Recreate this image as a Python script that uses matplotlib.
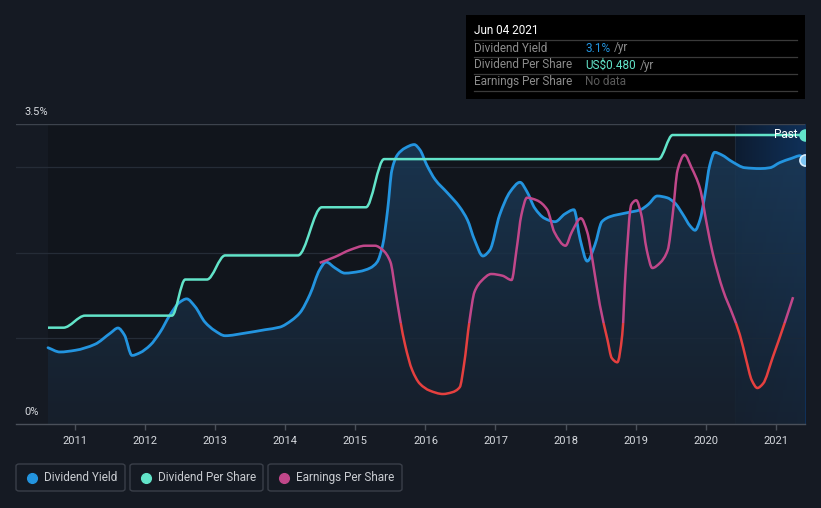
import numpy as np
import matplotlib
matplotlib.use("Agg")
import matplotlib.pyplot as plt
from matplotlib.patches import Rectangle, FancyBboxPatch, PathPatch
from matplotlib.path import Path
from matplotlib.colors import LinearSegmentedColormap

plt.rcParams['font.family'] = ['Roboto', 'DejaVu Sans']

# ---------------- data (decimal years) ----------------
yield_years = [2010.61, 2010.78, 2011.00, 2011.28, 2011.50, 2011.61, 2011.70, 2011.81, 2011.92,
               2012.07, 2012.21, 2012.35, 2012.49, 2012.59, 2012.71, 2012.85, 2012.99, 2013.14,
               2013.42, 2013.71, 2013.92, 2014.09, 2014.21, 2014.35, 2014.49, 2014.58, 2014.71,
               2014.85, 2015.06, 2015.21, 2015.31, 2015.39, 2015.46, 2015.52, 2015.60, 2015.71,
               2015.84, 2015.92, 2016.02, 2016.14, 2016.31, 2016.49, 2016.60, 2016.70, 2016.82,
               2016.92, 2017.06, 2017.21, 2017.35, 2017.45, 2017.56, 2017.70, 2017.85, 2017.99,
               2018.12, 2018.21, 2018.31, 2018.42, 2018.52, 2018.64, 2018.85, 2019.07, 2019.18,
               2019.31, 2019.45, 2019.56, 2019.68, 2019.78, 2019.85, 2019.92, 2019.99, 2020.06,
               2020.13, 2020.23, 2020.38, 2020.56, 2020.78, 2020.92, 2021.06, 2021.23, 2021.35,
               2021.42]
yield_pct = [0.89, 0.84, 0.86, 0.93, 1.06, 1.12, 1.04, 0.80, 0.83,
             0.92, 1.07, 1.27, 1.42, 1.46, 1.37, 1.19, 1.09, 1.03,
             1.06, 1.10, 1.13, 1.21, 1.30, 1.51, 1.80, 1.89, 1.82,
             1.76, 1.78, 1.82, 1.89, 2.09, 2.50, 2.96, 3.14, 3.22,
             3.26, 3.20, 3.02, 2.85, 2.70, 2.53, 2.38, 2.15, 1.96,
             2.03, 2.44, 2.71, 2.82, 2.71, 2.52, 2.40, 2.36, 2.45,
             2.50, 2.15, 1.90, 2.09, 2.36, 2.42, 2.46, 2.50, 2.56,
             2.66, 2.64, 2.58, 2.44, 2.31, 2.26, 2.38, 2.67, 3.02,
             3.17, 3.14, 3.06, 2.99, 2.98, 2.99, 3.05, 3.10, 3.13,
             3.08]

dps_years = [2010.61, 2010.83, 2011.14, 2012.38, 2012.57, 2012.88, 2013.14, 2014.18,
             2014.52, 2015.15, 2015.41, 2019.33, 2019.53, 2021.42]
dps_usd = [0.16, 0.16, 0.18, 0.18, 0.24, 0.24, 0.28, 0.28,
           0.36, 0.36, 0.44, 0.44, 0.48, 0.48]

eps_years = [2014.49, 2014.71, 2014.92, 2015.14, 2015.28, 2015.39, 2015.50, 2015.57, 2015.64,
             2015.71, 2015.81, 2015.92, 2016.06, 2016.25, 2016.38, 2016.49, 2016.55, 2016.63,
             2016.70, 2016.80, 2016.94, 2017.10, 2017.23, 2017.30, 2017.37, 2017.45, 2017.59,
             2017.74, 2017.84, 2018.00, 2018.09, 2018.22, 2018.31, 2018.39, 2018.49, 2018.60,
             2018.66, 2018.74, 2018.81, 2018.86, 2018.94, 2019.01, 2019.08, 2019.16, 2019.24,
             2019.35, 2019.46, 2019.53, 2019.60, 2019.70, 2019.80, 2019.92, 2020.02, 2020.10,
             2020.25, 2020.39, 2020.49, 2020.58, 2020.66, 2020.74, 2020.82, 2020.96, 2021.13,
             2021.25]
eps_val = [1.88, 1.95, 2.03, 2.08, 2.08, 2.03, 1.89, 1.56, 1.21,
           0.92, 0.63, 0.47, 0.39, 0.35, 0.37, 0.43, 0.69, 1.21,
           1.54, 1.67, 1.75, 1.73, 1.68, 2.03, 2.44, 2.64, 2.61,
           2.50, 2.24, 2.08, 2.24, 2.40, 2.24, 1.89, 1.39, 0.98,
           0.77, 0.72, 1.04, 1.80, 2.56, 2.61, 2.45, 2.03, 1.82,
           1.88, 2.03, 2.44, 2.96, 3.14, 2.99, 2.75, 2.32, 2.00,
           1.56, 1.27, 1.04, 0.75, 0.51, 0.42, 0.47, 0.78, 1.18,
           1.48]

year_ticks = list(range(2011, 2022))
y_labels = ["0%", "3.5%"]
legend_labels = ["Dividend Yield", "Dividend Per Share", "Earnings Per Share"]
tooltip_date = "Jun 04 2021"
tooltip_rows = [("Dividend Yield", "3.1%", "/yr"),
                ("Dividend Per Share", "US$0.480", "/yr"),
                ("Earnings Per Share", "No data", "")]

# ---------------- style ----------------
W, H = 821, 508
BG = '#151a23'
BLUE = '#2394df'
TEAL = '#62e4c9'
PINK = '#c1478a'
RED = '#e5403f'
TXT = '#d6d9de'


def smooth_path(xs, ys, close_to=None):
    """Monotone cubic Bezier path through the given points (drawing only)."""
    x = np.asarray(xs, float)
    y = np.asarray(ys, float)
    n = len(x)
    h = np.diff(x)
    d = np.diff(y) / h
    m = np.zeros(n)
    m[0], m[-1] = d[0], d[-1]
    for k in range(1, n - 1):
        if d[k - 1] * d[k] <= 0:
            m[k] = 0.0
        else:
            w1 = 2 * h[k] + h[k - 1]
            w2 = h[k] + 2 * h[k - 1]
            m[k] = (w1 + w2) / (w1 / d[k - 1] + w2 / d[k])
    verts = [(x[0], y[0])]
    codes = [Path.MOVETO]
    for i in range(n - 1):
        verts += [(x[i] + h[i] / 3, y[i] + m[i] * h[i] / 3),
                  (x[i + 1] - h[i] / 3, y[i + 1] - m[i + 1] * h[i] / 3),
                  (x[i + 1], y[i + 1])]
        codes += [Path.CURVE4] * 3
    if close_to is not None:
        verts += [(x[-1], close_to), (x[0], close_to), (x[0], y[0])]
        codes += [Path.LINETO, Path.LINETO, Path.CLOSEPOLY]
    return Path(verts, codes)


fig = plt.figure(figsize=(W / 100, H / 100), dpi=100, facecolor=BG)


def fx(x):
    return x / W


def fy(y):
    return 1 - y / H


x_left, x_right = 2010.153, 2021.42
ax = fig.add_axes([fx(16), fy(424), fx(805) - fx(16), fy(124) - fy(424)])
ax.set_facecolor(BG)
ax.set_xlim(x_left, x_right)
ax.set_ylim(0, 3.5)

# darker data area
ax.axvspan(yield_years[0], x_right, color='#11151c', zorder=0, lw=0)

# highlight span with horizontal gradient
fc_start = 2020.42
grad = np.linspace(0, 1, 256).reshape(1, -1)
cmap_fc = LinearSegmentedColormap.from_list('fc', [(0.05, 0.11, 0.19, 1), (0.06, 0.19, 0.35, 1)])
ax.imshow(grad, extent=[fc_start, x_right, 0, 3.5], aspect='auto', cmap=cmap_fc,
          zorder=0.5, origin='lower')
ax.axvline(fc_start, color='#1d2a3a', lw=0.8, zorder=0.6)

# gridlines
for g in [1, 2, 3]:
    ax.axhline(g, color='#252c37', lw=0.9, zorder=1)
ax.axhline(3.5, color='#3d434d', lw=1.0, zorder=1)

# blue area with vertical gradient
fill_path = smooth_path(yield_years, yield_pct, close_to=0)
cmap_fill = LinearSegmentedColormap.from_list('fill', ['#17212e', '#1b3a58'])
vgrad = np.linspace(0, 1, 256).reshape(-1, 1)
im = ax.imshow(vgrad, extent=[yield_years[0], yield_years[-1], 0, 3.3], aspect='auto',
               cmap=cmap_fill, origin='lower', zorder=1.5, alpha=0.85)
im.set_clip_path(fill_path, transform=ax.transData)

ax.add_patch(PathPatch(smooth_path(yield_years, yield_pct), fill=False, edgecolor=BLUE,
                       lw=2.0, zorder=4, joinstyle='round', capstyle='round'))

# DPS on its own hidden axis
ax2 = ax.twinx()
ax2.set_ylim(0, 0.4983)
ax2.set_xlim(x_left, x_right)
ax2.axis('off')
ax2.add_patch(PathPatch(smooth_path(dps_years, dps_usd), fill=False, edgecolor=TEAL,
                        lw=1.8, zorder=3, joinstyle='round'))
ax2.plot([dps_years[-1]], [dps_usd[-1]], 'o', color=TEAL, ms=8, zorder=5)

# EPS on its own hidden axis, pink above threshold, red below
ax3 = ax.twinx()
ax3.set_ylim(0, 3.5)
ax3.set_xlim(x_left, x_right)
ax3.axis('off')
thr = 1.18
eps_path = smooth_path(eps_years, eps_val)
p1 = PathPatch(eps_path, fill=False, edgecolor=PINK, lw=1.8, zorder=3, joinstyle='round')
p2 = PathPatch(eps_path, fill=False, edgecolor=RED, lw=1.8, zorder=3, joinstyle='round')
ax3.add_patch(p1)
ax3.add_patch(p2)
r1 = Rectangle((x_left, thr), x_right - x_left, 10, transform=ax3.transData)
r2 = Rectangle((x_left, -10), x_right - x_left, 10 + thr, transform=ax3.transData)
p1.set_clip_path(r1)
p2.set_clip_path(r2)

# blue end marker on top
ax4 = ax.twinx()
ax4.set_ylim(0, 3.5)
ax4.set_xlim(x_left, x_right)
ax4.axis('off')
ax4.plot([yield_years[-1]], [yield_pct[-1]], 'o', ms=8, markerfacecolor='#7cc4f2',
         markeredgecolor='#d8ecfb', mew=1.2, zorder=6)
fig.text(fx(797), fy(135), "Past", color='white', fontsize=8.5, ha='right', va='center')

# axes cosmetics
for s in ['top', 'right', 'left']:
    ax.spines[s].set_visible(False)
ax.spines['bottom'].set_color('#4a505a')
ax.spines['bottom'].set_linewidth(1.0)
ax.set_yticks([])
ax.set_xticks(year_ticks)
ax.set_xticklabels([str(y) for y in year_ticks])
ax.tick_params(axis='x', colors='#4a505a', length=4, width=1, labelcolor=TXT,
               labelsize=8, pad=5)

fig.text(fx(24), fy(112), y_labels[1], color=TXT, fontsize=8, va='center', ha='left')
fig.text(fx(24), fy(412), y_labels[0], color=TXT, fontsize=8, va='center', ha='left')

# tooltip
fig.patches.append(Rectangle((fx(466), fy(99)), fx(805) - fx(466), fy(15) - fy(99),
                             transform=fig.transFigure, facecolor='black', edgecolor='none',
                             zorder=10))
fig.text(fx(474), fy(31), tooltip_date, color='white', fontsize=8.5, va='center', zorder=11)
for ly in [40, 57, 74, 91]:
    fig.lines.append(plt.Line2D([fx(474), fx(797)], [fy(ly), fy(ly)], transform=fig.transFigure,
                                color='#3a3a3a', lw=0.9, zorder=11))
val_colors = [BLUE, TEAL, '#5a5a5a']
renderer = fig.canvas.get_renderer()
for i, (lab, val, suf) in enumerate(tooltip_rows):
    yy = fy(48 + 17 * i)
    fig.text(fx(474), yy, lab, color='#8c8c8c', fontsize=8.5, va='center', zorder=11)
    t = fig.text(fx(585), yy, val, color=val_colors[i], fontsize=8.5, va='center', zorder=11)
    if suf:
        bb = t.get_window_extent(renderer=renderer)
        fig.text(bb.x1 / W + fx(4), yy, suf, color='#8c8c8c', fontsize=8.5,
                 va='center', zorder=11)

# legend
boxes = [(16, 125, 32, 44), (130, 263, 146, 158), (268, 402, 284, 296)]
dot_colors = [BLUE, TEAL, PINK]
for (x0, x1, dx, tx), c, lab in zip(boxes, dot_colors, legend_labels):
    fig.patches.append(FancyBboxPatch((fx(x0), fy(491)), fx(x1) - fx(x0), fy(464) - fy(491),
                                      boxstyle="round,pad=0,rounding_size=0.004",
                                      transform=fig.transFigure, facecolor='none',
                                      edgecolor='#3a3f49', lw=1.0))
    fig.lines.append(plt.Line2D([fx(dx)], [fy(477.5)], marker='o', ms=7, color=c,
                                transform=fig.transFigure, ls='none'))
    fig.text(fx(tx), fy(477.5), lab, color='#c9ccd1', fontsize=8.5, va='center')

fig.savefig('out.png', dpi=100, facecolor=BG)
